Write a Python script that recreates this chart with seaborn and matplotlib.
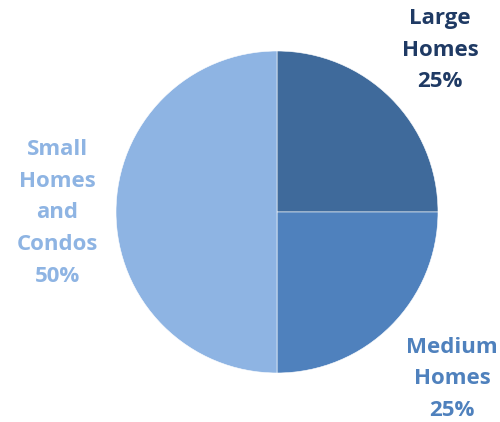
import matplotlib
matplotlib.use("Agg")
import matplotlib.pyplot as plt
import seaborn as sns

# Share of housing stock by home type
categories = ["Large\nHomes", "Medium\nHomes", "Small\nHomes\nand\nCondos"]
shares = [25, 25, 50]
slice_colors = ["#3F6A9B", "#4F81BD", "#8EB4E3"]
label_colors = ["#1F3A64", "#4F81BD", "#8EB4E3"]
label_xy = [(1.012, 1.006), (1.087, -1.037), (-1.366, -0.006)]

sns.set_theme(style="white")
plt.rcParams["font.family"] = ["Open Sans", "DejaVu Sans"]

W, H = 500, 422
fig = plt.figure(figsize=(W / 100, H / 100), dpi=100)
cx, cy, r = 277, 212, 161
ax = fig.add_axes([(cx - r) / W, (H - cy - r) / H, 2 * r / W, 2 * r / H])

palette = sns.color_palette(slice_colors)
ax.pie(shares, colors=palette, startangle=90, counterclock=False,
       wedgeprops=dict(edgecolor="white", linewidth=0.4))
ax.set_xlim(-1, 1)
ax.set_ylim(-1, 1)
ax.set_aspect("equal")
ax.axis("off")

for cat, val, col, (x, y) in zip(categories, shares, label_colors, label_xy):
    ax.text(x, y, f"{cat}\n{val}%", ha="center", va="center", color=col,
            fontsize=16, fontweight="bold", linespacing=1.66, clip_on=False)

fig.savefig("out.png", dpi=100)
